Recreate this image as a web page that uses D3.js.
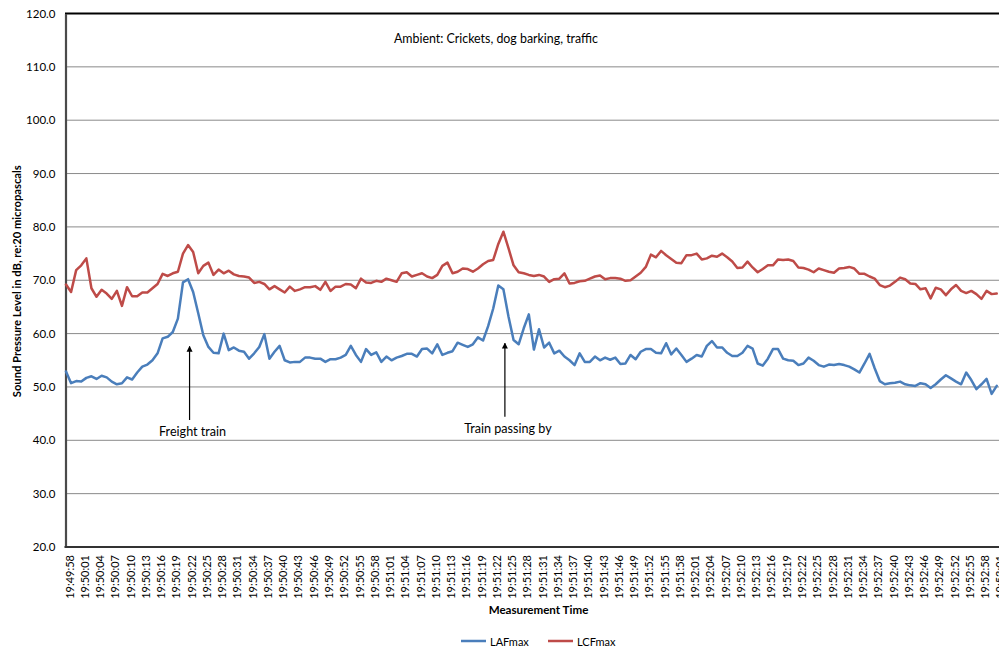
<!DOCTYPE html>
<html><head><meta charset="utf-8">
<script src="https://cdn.jsdelivr.net/npm/d3@7/dist/d3.min.js"></script>
<style>body{margin:0;background:#fff}svg{display:block}</style>
</head><body>
<svg id="chart" width="999" height="648"></svg>
<script>
const times = [
"19:49:58","19:49:59",
"19:50:00","19:50:01","19:50:02","19:50:03","19:50:04","19:50:05","19:50:06","19:50:07","19:50:08","19:50:09",
"19:50:10","19:50:11","19:50:12","19:50:13","19:50:14","19:50:15","19:50:16","19:50:17","19:50:18","19:50:19",
"19:50:20","19:50:21","19:50:22","19:50:23","19:50:24","19:50:25","19:50:26","19:50:27","19:50:28","19:50:29",
"19:50:30","19:50:31","19:50:32","19:50:33","19:50:34","19:50:35","19:50:36","19:50:37","19:50:38","19:50:39",
"19:50:40","19:50:41","19:50:42","19:50:43","19:50:44","19:50:45","19:50:46","19:50:47","19:50:48","19:50:49",
"19:50:50","19:50:51","19:50:52","19:50:53","19:50:54","19:50:55","19:50:56","19:50:57","19:50:58","19:50:59",
"19:51:00","19:51:01","19:51:02","19:51:03","19:51:04","19:51:05","19:51:06","19:51:07","19:51:08","19:51:09",
"19:51:10","19:51:11","19:51:12","19:51:13","19:51:14","19:51:15","19:51:16","19:51:17","19:51:18","19:51:19",
"19:51:20","19:51:21","19:51:22","19:51:23","19:51:24","19:51:25","19:51:26","19:51:27","19:51:28","19:51:29",
"19:51:30","19:51:31","19:51:32","19:51:33","19:51:34","19:51:35","19:51:36","19:51:37","19:51:38","19:51:39",
"19:51:40","19:51:41","19:51:42","19:51:43","19:51:44","19:51:45","19:51:46","19:51:47","19:51:48","19:51:49",
"19:51:50","19:51:51","19:51:52","19:51:53","19:51:54","19:51:55","19:51:56","19:51:57","19:51:58","19:51:59",
"19:52:00","19:52:01","19:52:02","19:52:03","19:52:04","19:52:05","19:52:06","19:52:07","19:52:08","19:52:09",
"19:52:10","19:52:11","19:52:12","19:52:13","19:52:14","19:52:15","19:52:16","19:52:17","19:52:18","19:52:19",
"19:52:20","19:52:21","19:52:22","19:52:23","19:52:24","19:52:25","19:52:26","19:52:27","19:52:28","19:52:29",
"19:52:30","19:52:31","19:52:32","19:52:33","19:52:34","19:52:35","19:52:36","19:52:37","19:52:38","19:52:39",
"19:52:40","19:52:41","19:52:42","19:52:43","19:52:44","19:52:45","19:52:46","19:52:47","19:52:48","19:52:49",
"19:52:50","19:52:51","19:52:52","19:52:53","19:52:54","19:52:55","19:52:56","19:52:57","19:52:58","19:52:59",
"19:53:00","19:53:01"];

const lafmax = [
52.9,50.7,51.1,51.0,51.7,52.0,51.5,52.1,51.8,51.0,
50.5,50.7,51.8,51.4,52.7,53.8,54.2,55.0,56.3,59.1,
59.4,60.3,62.8,69.6,70.2,67.8,63.8,59.7,57.5,56.4,
56.3,60.0,56.9,57.4,56.8,56.6,55.3,56.3,57.5,59.9,
55.3,56.6,57.7,55.0,54.6,54.7,54.7,55.5,55.5,55.3,
55.3,54.7,55.2,55.2,55.5,56.0,57.7,56.0,54.7,57.1,
56.0,56.5,54.7,55.7,55.0,55.5,55.8,56.2,56.2,55.7,
57.1,57.2,56.3,58.0,56.0,56.4,56.7,58.3,57.9,57.5,
58.0,59.3,58.7,61.4,64.7,69.0,68.3,63.2,58.8,58.0,
61.0,63.6,57.0,60.8,57.4,58.3,56.3,56.8,55.7,55.0,
54.1,56.3,54.7,54.7,55.7,55.0,55.5,55.1,55.5,54.3,
54.4,56.0,55.2,56.6,57.1,57.1,56.4,56.3,58.2,56.1,
57.2,56.0,54.7,55.3,56.0,55.7,57.7,58.6,57.4,57.4,
56.4,55.8,55.8,56.4,57.7,57.2,54.4,54.0,55.3,57.1,
57.1,55.3,55.0,54.9,54.1,54.4,55.5,54.9,54.1,53.8,
54.2,54.1,54.3,54.1,53.8,53.3,52.7,54.4,56.2,53.5,
51.1,50.5,50.7,50.8,51.0,50.5,50.3,50.2,50.7,50.5,
49.8,50.5,51.4,52.2,51.6,51.0,50.5,52.7,51.3,49.6,
50.5,51.5,48.7,50.2];

const lcfmax = [
69.2,67.8,71.9,72.8,74.1,68.5,66.9,68.2,67.5,66.5,
68.0,65.2,68.7,67.0,67.0,67.7,67.7,68.5,69.3,71.2,
70.8,71.3,71.6,75.0,76.6,75.3,71.3,72.7,73.3,71.0,
72.0,71.3,71.8,71.1,70.8,70.7,70.5,69.5,69.7,69.3,
68.3,68.9,68.3,67.7,68.8,68.0,68.3,68.7,68.7,68.9,
68.2,69.7,68.0,68.8,68.8,69.3,69.2,68.5,70.3,69.6,
69.5,69.9,69.7,70.3,70.0,69.7,71.3,71.5,70.7,71.0,
71.3,70.7,70.4,71.0,72.7,73.3,71.3,71.6,72.2,72.1,
71.6,72.2,73.0,73.6,73.8,76.8,79.1,76.0,72.8,71.5,
71.3,71.0,70.8,71.0,70.7,69.7,70.2,70.3,71.3,69.4,
69.5,69.8,69.9,70.3,70.7,70.9,70.2,70.4,70.4,70.3,
69.9,70.0,70.7,71.4,72.5,74.8,74.3,75.5,74.7,74.0,
73.3,73.2,74.7,74.7,75.0,73.9,74.1,74.6,74.4,75.0,
74.3,73.5,72.3,72.4,73.5,72.4,71.5,72.1,72.8,72.8,
73.9,73.8,73.9,73.6,72.4,72.3,72.0,71.5,72.2,71.9,
71.6,71.4,72.2,72.3,72.5,72.2,71.2,71.2,70.7,70.3,
69.1,68.7,69.0,69.7,70.5,70.2,69.4,69.3,68.3,68.5,
66.6,68.6,68.3,67.2,68.3,69.1,68.0,67.6,68.0,67.4,
66.5,68.0,67.4,67.5];

const yTickValues = [20,30,40,50,60,70,80,90,100,110,120];
const seriesNames = ["LAFmax","LCFmax"];
const seriesColors = ["#4A7EBB","#BE4B48"];
const yTitle = "Sound Pressure Level in dB, re:20 micropascals";
const xTitle = "Measurement Time";
const noteText = "Ambient: Crickets, dog barking, traffic";
const annotationLabels = ["Freight train","Train passing by"];
const annotationTimes = ["19:50:22","19:51:24"];

const svg = d3.select("#chart");
const FONT = "Lato, 'Liberation Sans', Arial, sans-serif";
const plotLeft = 66, plotTop = 13.5, plotBottom = 547;
const step = 5.086;

const x = d3.scalePoint().domain(times).range([plotLeft, plotLeft + step*(times.length-1)]);
const y = d3.scaleLinear().domain([20,120]).range([plotBottom, plotTop]);
const plotRight = x(times[times.length-1]) + 10;

// gridlines
svg.append("g").selectAll("line").data(yTickValues.filter(v=>v>20 && v<120)).join("line")
  .attr("x1", plotLeft-0.5).attr("x2", plotRight)
  .attr("y1", d=>y(d)).attr("y2", d=>y(d))
  .attr("stroke","#8a8a8a").attr("stroke-width",1);

// top border
svg.append("line").attr("x1",plotLeft-1).attr("x2",plotRight).attr("y1",y(120)).attr("y2",y(120))
  .attr("stroke","#000").attr("stroke-width",2);

// y axis
const yAxis = d3.axisLeft(y).tickValues(yTickValues).tickFormat(d3.format(".1f")).tickSize(0).tickPadding(10);
const gy = svg.append("g").attr("transform",`translate(${plotLeft-0.5},0)`).call(yAxis);
gy.select(".domain").attr("stroke","#4a4a4a").attr("stroke-width",2.2);
gy.selectAll("text").attr("font-family",FONT).attr("font-size","11.5px").attr("fill","#000");

// x axis
const xAxis = d3.axisBottom(x).tickValues(times.filter((t,i)=>i%3===0)).tickSize(0).tickPadding(0);
const gx = svg.append("g").attr("transform",`translate(0,${plotBottom})`).call(xAxis);
gx.select(".domain").attr("d",`M${plotLeft-1.5},0H${plotRight}`).attr("stroke","#333").attr("stroke-width",2);
gx.selectAll("text")
  .attr("font-family",FONT).attr("font-size","11px").attr("fill","#000")
  .attr("text-anchor","end").attr("dominant-baseline","central")
  .attr("transform","translate(2.6,8) rotate(-90)").attr("dy",null).attr("y",0).attr("x",0);

// lines
const line = d3.line().x((d,i)=>x(times[i])).y(d=>y(d)).curve(d3.curveLinear);
[lafmax, lcfmax].forEach((s,k)=>{
  svg.append("path").datum(s).attr("d",line)
    .attr("fill","none").attr("stroke",seriesColors[k]).attr("stroke-width",2.5)
    .attr("stroke-linejoin","round").attr("stroke-linecap","round");
});

// axis titles
svg.append("text").attr("transform",`translate(16,${(plotTop+plotBottom)/2+1}) rotate(-90)`)
  .attr("text-anchor","middle").attr("dominant-baseline","central")
  .attr("font-family",FONT).attr("font-weight","bold").attr("font-size","11.2px")
  .attr("textLength",232).attr("lengthAdjust","spacingAndGlyphs")
  .text(yTitle);
svg.append("text").attr("x",538.5).attr("y",609).attr("text-anchor","middle").attr("dominant-baseline","central")
  .attr("font-family",FONT).attr("font-weight","bold").attr("font-size","11.6px").text(xTitle);

// note
svg.append("text").attr("x",496).attr("y",y(115.3)).attr("text-anchor","middle").attr("dominant-baseline","central")
  .attr("font-family",FONT).attr("font-size","12.4px").text(noteText);

// annotations
const defs = svg.append("defs");
defs.append("marker").attr("id","arrow").attr("viewBox","0 0 10 10").attr("refX",9).attr("refY",5)
  .attr("markerWidth",6).attr("markerHeight",7).attr("orient","auto").attr("markerUnits","userSpaceOnUse")
  .append("path").attr("d","M0,0L10,5L0,10z").attr("fill","#000");
const annTip = [57.6, 58.2], annBase = [43.8, 44.4], annText = [41.6, 42.2];
annotationLabels.forEach((lab,k)=>{
  const ax = x(annotationTimes[k]) + 1.5;
  svg.append("line").attr("x1",ax).attr("x2",ax).attr("y1",y(annBase[k])).attr("y2",y(annTip[k]))
    .attr("stroke","#000").attr("stroke-width",1.2).attr("marker-end","url(#arrow)");
  svg.append("text").attr("x",ax+3).attr("y",y(annText[k])).attr("text-anchor","middle").attr("dominant-baseline","central")
    .attr("font-family",FONT).attr("font-size","12.6px").text(lab);
});

// legend
const legendX = [461, 548];
seriesNames.forEach((n,k)=>{
  const g = svg.append("g").attr("transform",`translate(${legendX[k]},641)`);
  g.append("line").attr("x1",0).attr("x2",25).attr("y1",0).attr("y2",0)
    .attr("stroke",seriesColors[k]).attr("stroke-width",2.5);
  g.append("text").attr("x",29).attr("y",0).attr("dominant-baseline","central")
    .attr("font-family",FONT).attr("font-size","11px").text(n);
});
</script>
</body></html>
